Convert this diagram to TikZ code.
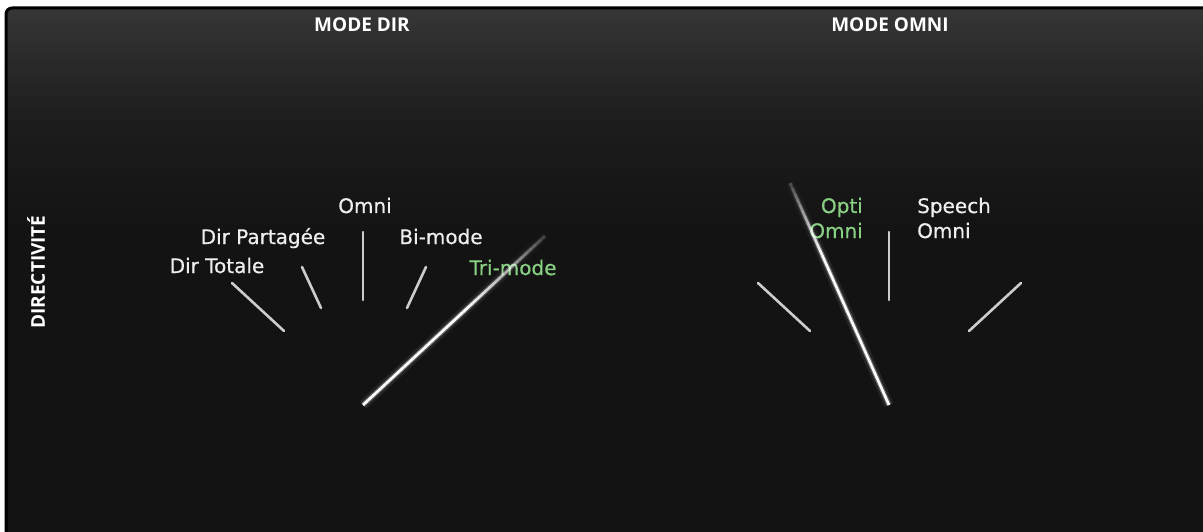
\documentclass[tikz,border=0pt]{standalone}
\usepackage{fontspec}
\setmainfont{DejaVu Sans}
\newfontfamily\lblfont{DejaVu Sans}[FakeBold=0.5]
\newfontfamily\titlefont{Open Sans}
\usetikzlibrary{calc}
\definecolor{bgA}{HTML}{131313}
\definecolor{bgB}{HTML}{1C1C1C}
\definecolor{bgC}{HTML}{2C2C2C}
\definecolor{bgD}{HTML}{363636}
\definecolor{tickgray}{HTML}{CCCCCC}
\definecolor{lblwhite}{HTML}{EEEEEE}
\definecolor{lblgreen}{HTML}{8AD084}
\pgfdeclareverticalshading{panelbg}{100bp}{color(0bp)=(bgA); color(25bp)=(bgA); color(54bp)=(bgA); color(64bp)=(bgB); color(71bp)=(bgC); color(75bp)=(bgD); color(100bp)=(bgD)}
\newcommand\glowneedle[3]{%
  \foreach \i in {0,...,39} {%
    \pgfmathsetmacro\ta{\i/40}%
    \pgfmathsetmacro\tb{(\i+1)/40}%
    \pgfmathsetmacro\op{\ta<#3 ? 1 : 1-(\ta-#3)/(1-#3)*0.88}%
    \draw[white, line width=10pt, opacity=0.07*\op] ($(#1)!\ta!(#2)$) -- ($(#1)!\tb!(#2)$);
    \draw[white, line width=5pt, opacity=0.3*\op] ($(#1)!\ta!(#2)$) -- ($(#1)!\tb!(#2)$);
    \draw[white, line width=2.6pt, opacity=\op] ($(#1)!\ta!(#2)$) -- ($(#1)!\tb!(#2)$);
  }%
}
\tikzset{
  lbl/.style={inner sep=0pt, text=lblwhite, font=\lblfont\fontsize{20}{24}\selectfont},
  glbl/.style={lbl, text=lblgreen},
  ttl/.style={inner sep=0pt, text=white, font=\titlefont\bfseries\fontsize{19}{22}\selectfont},
  tick/.style={draw=tickgray, line width=2.6pt, line cap=round},
}
\begin{document}
\begin{tikzpicture}[x=1pt, y=-1pt]
\useasboundingbox (0,0) rectangle (1203,532);
\clip (0,0) rectangle (1203,532);
\fill[white] (0,0) rectangle (1203,532);
% panel
\shade[shading=panelbg, rounded corners=6pt] (6,8) rectangle (1215,545);
\draw[black, line width=3pt, rounded corners=6pt] (6,8) rectangle (1215,545);
% titles
\node[ttl, anchor=base] (tdir) at (362,32) {MODE DIR};
\node[ttl, anchor=base] (tomni) at (890,32) {MODE OMNI};
\node[ttl, anchor=base, rotate=90] (tdirect) at (45,272) {DIRECTIVITÉ};
% left gauge
\coordinate (Lp) at (363,405);
\coordinate (Lt) at (545,236);
\coordinate (L1a) at (232,283); \coordinate (L1b) at (284,331);
\coordinate (L2a) at (302,267); \coordinate (L2b) at (321,308);
\coordinate (L3a) at (363,232); \coordinate (L3b) at (363,300);
\coordinate (L4a) at (426,267); \coordinate (L4b) at (407,308);
\draw[tick] (L1a) -- (L1b);
\draw[tick] (L2a) -- (L2b);
\draw[tick] (L3a) -- (L3b);
\draw[tick] (L4a) -- (L4b);
\node[lbl, anchor=base] (dtot) at (217,273) {Dir Totale};
\node[lbl, anchor=base] (dpart) at (263,244) {Dir Partagée};
\node[lbl, anchor=base] (omni) at (365,213) {Omni};
\node[lbl, anchor=base] (bimode) at (441,244) {Bi-mode};
\node[glbl, anchor=base] (trimode) at (513,275) {Tri-mode};
\glowneedle{Lp}{Lt}{0.55}
% right gauge
\coordinate (Rp) at (889,405);
\coordinate (Rt) at (790,183);
\coordinate (R1a) at (758,283); \coordinate (R1b) at (810,331);
\coordinate (R2a) at (889,232); \coordinate (R2b) at (889,300);
\coordinate (R3a) at (1021,283); \coordinate (R3b) at (969,331);
\draw[tick] (R1a) -- (R1b);
\draw[tick] (R2a) -- (R2b);
\draw[tick] (R3a) -- (R3b);
\node[glbl, anchor=base east] (opti) at (863,213) {Opti};
\node[glbl, anchor=base east] (optiomni) at (863,238) {Omni};
\node[lbl, anchor=base west] (speech) at (917,213) {Speech};
\node[lbl, anchor=base west] (speechomni) at (917,238) {Omni};
\glowneedle{Rp}{Rt}{0.65}
\end{tikzpicture}
\end{document}
